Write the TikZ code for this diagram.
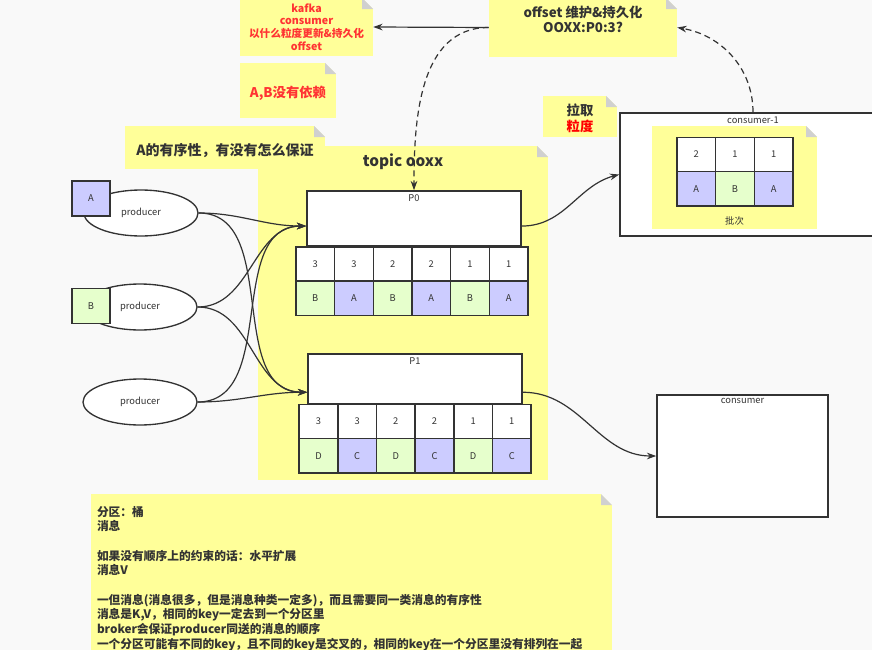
\documentclass[tikz,border=0pt]{standalone}
\usepackage{fontspec}
\setmainfont{Noto Sans CJK SC}
\definecolor{kfBg}{RGB}{249,249,249}
\definecolor{kfNote}{RGB}{255,255,153}
\definecolor{kfFold}{RGB}{208,208,208}
\definecolor{kfPurple}{RGB}{204,204,255}
\definecolor{kfGreen}{RGB}{230,255,204}
\definecolor{kfLine}{RGB}{51,51,51}
\definecolor{kfText}{RGB}{51,51,51}
\definecolor{kfRed}{RGB}{255,51,51}
\definecolor{kfPureRed}{RGB}{255,0,0}
\usepackage{tikz}
\usetikzlibrary{
  shapes.geometric,
  arrows.meta,
  positioning,
  fit
}
\tikzset{
  % Not kağıtları
  notebox/.style={
    fill=kfNote,
    inner sep=0pt,
    path picture={
      \fill[#1] (path picture bounding box.north east) -- ++(-11,0) -- ++(11,-11) -- cycle;
      \fill[kfFold] (path picture bounding box.north east) ++(-11,0) -- ++(0,-11) -- ++(11,0) -- cycle;
    }
  },
  notebox/.default=kfBg,
  % Yazı tipleri
  smalltext/.style={font=\fontsize{7}{8.5}\selectfont},
  notefont/.style={font=\fontsize{10}{11}\selectfont\bfseries},
  bodyfont/.style={font=\fontsize{8.8}{11}\selectfont\bfseries},
  % Kutular
  partbox/.style={draw=kfLine, line width=1.2pt, fill=white, inner sep=0pt},
  boxlabel/.style={anchor=north, smalltext, inner sep=3pt},
  cell/.style={
    draw=kfLine,
    line width=1.1pt,
    fill=white,
    minimum width=29pt,
    minimum height=25.8pt,
    inner sep=0pt,
    outer sep=0pt,
    smalltext
  },
  acell/.style={cell, fill=kfPurple},
  bcell/.style={cell, fill=kfGreen},
  tagbox/.style={draw=kfLine, line width=1.1pt, minimum width=28.5pt, minimum height=26pt, inner sep=0pt, smalltext},
  producer/.style={
    ellipse,
    draw=kfLine,
    line width=1pt,
    fill=white,
    minimum width=85.5pt,
    minimum height=34.5pt,
    smalltext
  },
  % Ok stilleri
  arrow/.style={-{Stealth[length=7pt, width=5pt]}, line width=0.9pt, draw=kfLine},
  dasharrow/.style={arrow, dash pattern=on 4.5pt off 3pt},
}
\begin{document}
\begin{tikzpicture}[x=0.75pt, y=0.75pt, every node/.append style={text=kfText}]
  \fill[kfBg] (0,0) rectangle (872,-650);
  \useasboundingbox (0,0) rectangle (872,-650);

  % Notlar
  \node[notebox, fit={(240,2) (373,-56)}] (kafka) {};
  \node[align=center, inner sep=0pt, font=\fontsize{8}{9.4}\selectfont\bfseries, text=kfRed] (kafkatext) at (kafka) {kafka\\consumer\\以什么粒度更新\&持久化\\offset};
  \node[notebox, fit={(489,2) (677,-57)}] (offset) {};
  \node[below=6pt of offset.north, inner sep=0pt, align=center, notefont] (offsettext) {offset 维护\&持久化\\OOXX:P0:3?};
  \node[notebox, fit={(240,-63) (336,-118)}] (abnote) {};
  \node[inner sep=0pt, yshift=-2pt, notefont, text=kfRed] (abtext) at (abnote) {A,B没有依赖};
  \node[notebox, fit={(258,-146) (548,-480)}] (topic) {};
  \node[below=6pt of topic.north, inner sep=0pt, font=\fontsize{11.5}{13}\selectfont\bfseries] (topictitle) {topic ooxx};
  \node[notebox, fit={(125,-126) (325,-169)}] (ordernote) {};
  \node[inner sep=0pt, yshift=-2pt, font=\fontsize{10.5}{12}\selectfont\bfseries] (ordertext) at (ordernote) {A的有序性，有没有怎么保证};
  \node[notebox, fit={(543,-96) (617,-137)}] (pullnote) {};
  \node[align=center, inner sep=0pt, yshift=-1.5pt, font=\fontsize{10}{12}\selectfont\bfseries] (pulltext) at (pullnote) {拉取\\\textcolor{kfPureRed}{粒度}};

  % consumer-1 ve parti
  \node[partbox, fit={(620,-113) (886,-236)}, label={[boxlabel]north:consumer-1}] (consumer1) {};
  \node[notebox=white, fit={(652,-126) (817,-229)}, label={[anchor=south, smalltext, inner sep=3pt]south:批次}] (batch) {};
  \node[cell] (b1) at (696.3,-154.5) {2};
  \node[cell, right=0pt of b1] (b2) {1};
  \node[cell, right=0pt of b2] (b3) {1};
  \node[acell, below=0pt of b1] (b4) {A};
  \node[bcell, below=0pt of b2] (b5) {B};
  \node[acell, below=0pt of b3] (b6) {A};

  % P0
  \node[partbox, fit={(307,-191) (521,-246)}, label={[boxlabel]north:P0}] (P0) {};
  \node[cell] (p0n1) at (315.3,-264) {3};
  \node[cell, right=0pt of p0n1] (p0n2) {3};
  \node[cell, right=0pt of p0n2] (p0n3) {2};
  \node[cell, right=0pt of p0n3] (p0n4) {2};
  \node[cell, right=0pt of p0n4] (p0n5) {1};
  \node[cell, right=0pt of p0n5] (p0n6) {1};
  \node[bcell, below=0pt of p0n1] (p0k1) {B};
  \node[acell, below=0pt of p0n2] (p0k2) {A};
  \node[bcell, below=0pt of p0n3] (p0k3) {B};
  \node[acell, below=0pt of p0n4] (p0k4) {A};
  \node[bcell, below=0pt of p0n5] (p0k5) {B};
  \node[acell, below=0pt of p0n6] (p0k6) {A};

  % P1
  \node[partbox, fit={(308,-354) (522,-404)}, label={[boxlabel]north:P1}] (P1) {};
  \node[cell] (p1n1) at (318.5,-421.5) {3};
  \node[cell, right=0pt of p1n1] (p1n2) {3};
  \node[cell, right=0pt of p1n2] (p1n3) {2};
  \node[cell, right=0pt of p1n3] (p1n4) {2};
  \node[cell, right=0pt of p1n4] (p1n5) {1};
  \node[cell, right=0pt of p1n5] (p1n6) {1};
  \node[bcell, below=0pt of p1n1] (p1k1) {D};
  \node[acell, below=0pt of p1n2] (p1k2) {C};
  \node[bcell, below=0pt of p1n3] (p1k3) {D};
  \node[acell, below=0pt of p1n4] (p1k4) {C};
  \node[bcell, below=0pt of p1n5] (p1k5) {D};
  \node[acell, below=0pt of p1n6] (p1k6) {C};

  % Üreticiler
  \node[producer] (prodA) at (141,-213) {producer};
  \node[producer] (prodB) at (140,-307) {producer};
  \node[producer] (prodC) at (140,-402) {producer};
  \node[tagbox, fill=kfPurple] (tagA) at (91,-198.5) {A};
  \node[tagbox, fill=kfGreen] (tagB) at (91,-306) {B};

  \node[partbox, fit={(657,-395) (828,-517)}, label={[boxlabel]north:consumer}] (consumer) {};

  % Alt not
  \node[notebox, fit={(91,-494) (612,-660)}] (bottomnote) {};
  \node[below right=9pt and 4.5pt of bottomnote.north west, inner sep=0pt, align=left, bodyfont] (bottomtext) {分区：桶\\消息\\[11pt]如果没有顺序上的约束的话：水平扩展\\消息V\\[11pt]一但消息(消息很多，但是消息种类一定多)，而且需要同一类消息的有序性\\消息是K,V，相同的key一定去到一个分区里\\broker会保证producer同送的消息的顺序\\一个分区可能有不同的key，且不同的key是交叉的，相同的key在一个分区里没有排列在一起};

  % Oklar
  \draw[arrow] (prodA.east) to[out=0, in=180] (P0.184);
  \draw[arrow] (prodA.east) to[out=0, in=180] (P1.187);
  \draw[arrow] (prodB.east) to[out=0, in=180] (P0.184);
  \draw[arrow] (prodB.east) to[out=0, in=180] (P1.187);
  \draw[arrow] (prodC.east) to[out=0, in=180] (P0.184);
  \draw[arrow] (prodC.east) to[out=0, in=180] (P1.187);
  \draw[arrow] (P0.356) to[out=0, in=195] (consumer1.west);
  \draw[arrow] (P1.353) to[out=0, in=180] (consumer.west);
  \draw[arrow] (offset.west) -- (kafka.east);
  \draw[dasharrow] (offset.west) to[out=180, in=90] (P0.north);
  \draw[dasharrow] (consumer1.north) to[out=90, in=-10] (offset.east);
\end{tikzpicture}
\end{document}
